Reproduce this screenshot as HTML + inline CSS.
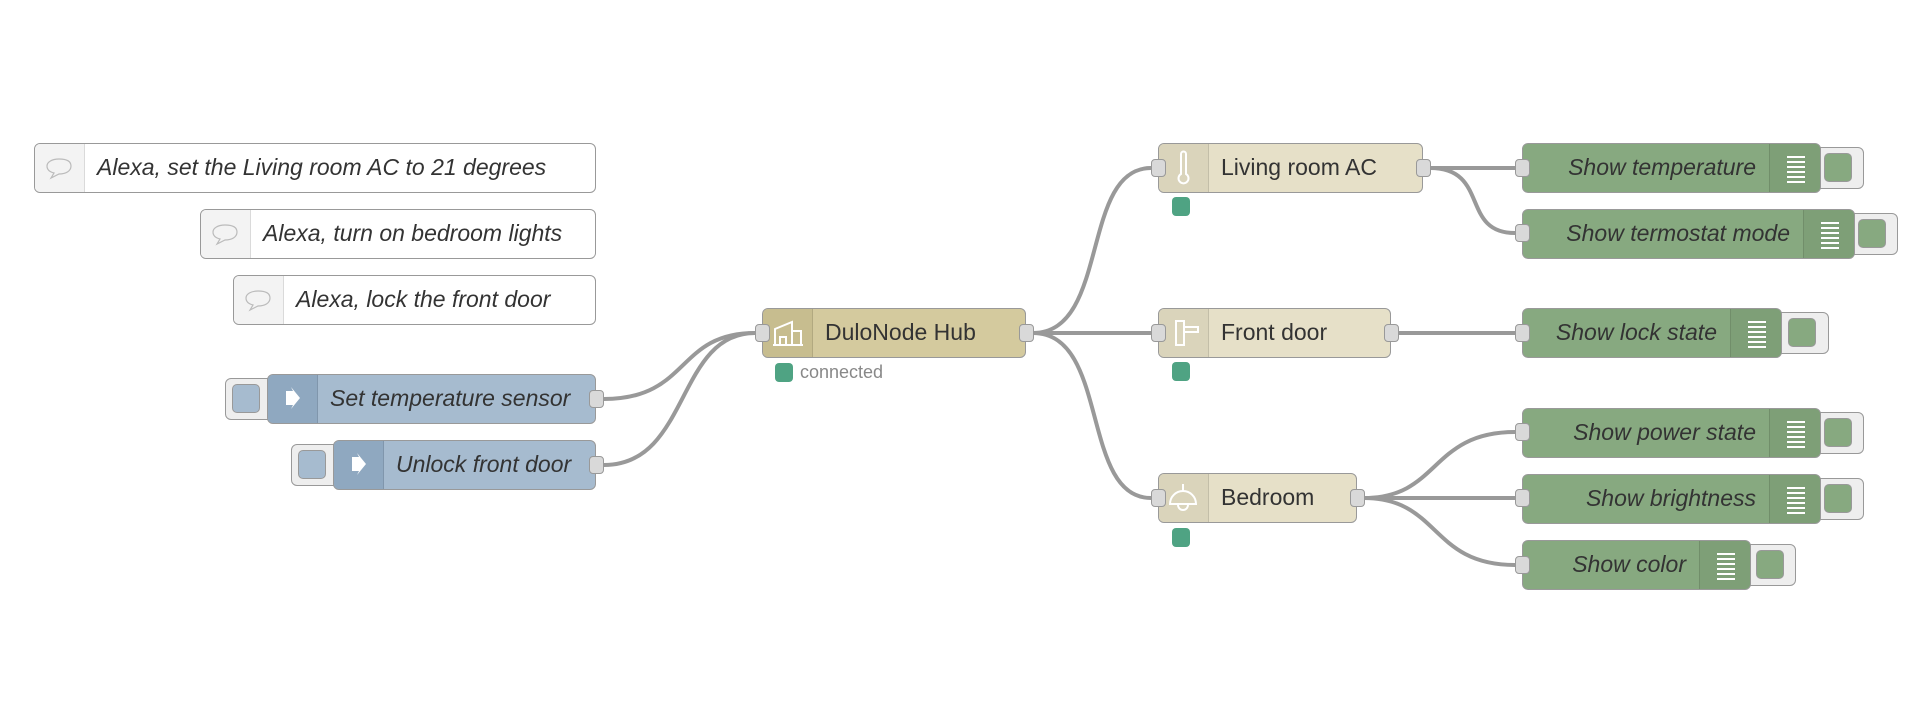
<!DOCTYPE html>
<html><head><meta charset="utf-8"><style>
body{margin:0;width:1920px;height:720px;background:#fff;position:relative;overflow:hidden;font-family:"Liberation Sans",Arial,sans-serif}
.n{position:absolute;box-sizing:border-box;border:1.5px solid #999;border-radius:6px;height:50px;font-size:23px;color:#333}
.ic{position:absolute;left:0;top:0;bottom:0;width:49px;border-right:1px solid rgba(0,0,0,0.1);border-radius:5px 0 0 5px}
.ir{position:absolute;right:0;top:0;bottom:0;width:50px;border-left:1px solid rgba(0,0,0,0.1);border-radius:0 5px 5px 0;background:#7e9f77}
.t{position:absolute;top:0;line-height:47px;white-space:nowrap}
.it{font-style:italic}
.p{position:absolute;width:15px;height:18px;background:#d9d9d9;border:1.5px solid #999;border-radius:4px;box-sizing:border-box}
.btn{position:absolute;box-sizing:border-box;height:42px;border:1.5px solid #999;background:#eee;border-radius:6px}
.btn i{position:absolute;top:5px;width:28px;height:29px;border:1.5px solid #999;border-radius:5px;box-sizing:border-box}
.dot{position:absolute;width:18px;height:19px;background:#4fa383;border-radius:4px}
.lines{position:absolute;left:17px;top:12px;width:18px}
.lines b{display:block;height:2px;background:#fff;margin-bottom:3px}
</style></head><body>
<svg width="1920" height="720" style="position:absolute;left:0;top:0">
<g fill="none" stroke="#999" stroke-width="4">
<path d="M604 399 C690 399 676 333 755 333"/>
<path d="M604 465 C690 465 676 333 755 333"/>
<path d="M1033 333 C1110 333 1080 168 1151 168"/>
<path d="M1033 333 L1151 333"/>
<path d="M1033 333 C1110 333 1080 498 1151 498"/>
<path d="M1430 168 L1515 168"/>
<path d="M1430 168 C1490 168 1460 233 1515 233"/>
<path d="M1398 333 L1515 333"/>
<path d="M1364 498 C1440 498 1430 432 1515 432"/>
<path d="M1364 498 L1515 498"/>
<path d="M1364 498 C1440 498 1430 565 1515 565"/>
</g></svg>

<!-- comments -->
<div class="n" style="left:34px;top:143px;width:562px;background:#fff"><div class="ic" style="background:#f3f3f3"><svg width="49" height="47"><path d="M24 15c-7 0-12 3-12 7s3 6 7 7l-3 5 8-4c7 0 12-3 12-8s-5-7-12-7z" fill="none" stroke="#bbb" stroke-width="1.2"/></svg></div><div class="t it" style="left:62px">Alexa, set the Living room AC to 21 degrees</div></div>
<div class="n" style="left:200px;top:209px;width:396px;background:#fff"><div class="ic" style="background:#f3f3f3"><svg width="49" height="47"><path d="M24 15c-7 0-12 3-12 7s3 6 7 7l-3 5 8-4c7 0 12-3 12-8s-5-7-12-7z" fill="none" stroke="#bbb" stroke-width="1.2"/></svg></div><div class="t it" style="left:62px">Alexa, turn on bedroom lights</div></div>
<div class="n" style="left:233px;top:275px;width:363px;background:#fff"><div class="ic" style="background:#f3f3f3"><svg width="49" height="47"><path d="M24 15c-7 0-12 3-12 7s3 6 7 7l-3 5 8-4c7 0 12-3 12-8s-5-7-12-7z" fill="none" stroke="#bbb" stroke-width="1.2"/></svg></div><div class="t it" style="left:62px">Alexa, lock the front door</div></div>

<!-- inject -->
<div class="btn" style="left:225px;top:378px;width:50px"><i style="left:6px;background:#a6bbcf"></i></div>
<div class="n" style="left:267px;top:374px;width:329px;background:#a6bbcf"><div class="ic" style="background:#8fa8c0"><svg width="49" height="47"><path d="M18 16h7l-2-4 9 11-9 11 2-4h-7z" fill="#fff"/></svg></div><div class="t it" style="left:62px">Set temperature sensor</div></div>
<div class="p" style="left:589px;top:390px"></div>
<div class="btn" style="left:291px;top:444px;width:50px"><i style="left:6px;background:#a6bbcf"></i></div>
<div class="n" style="left:333px;top:440px;width:263px;background:#a6bbcf"><div class="ic" style="background:#8fa8c0"><svg width="49" height="47"><path d="M18 16h7l-2-4 9 11-9 11 2-4h-7z" fill="#fff"/></svg></div><div class="t it" style="left:62px">Unlock front door</div></div>
<div class="p" style="left:589px;top:456px"></div>

<!-- hub -->
<div class="n" style="left:762px;top:308px;width:264px;background:#d4ca9e"><div class="ic" style="background:#c7bd8f"><svg width="49" height="47"><path d="M10 36h30M12 36V20l17-7v23M29 22h9v14M17 36v-8h6v8" fill="none" stroke="#fff" stroke-width="2"/></svg></div><div class="t" style="left:62px">DuloNode Hub</div></div>
<div class="p" style="left:755px;top:324px"></div><div class="p" style="left:1019px;top:324px"></div>
<div class="dot" style="left:775px;top:363px"></div><div style="position:absolute;left:800px;top:362px;font-size:18px;color:#888">connected</div>

<!-- devices -->
<div class="n" style="left:1158px;top:143px;width:265px;background:#e6e0c8"><div class="ic" style="background:#dad4bb"><svg width="49" height="47"><path d="M22 10v20a5 5 0 1 0 5 0V10a2.5 2.5 0 0 0-5 0z" fill="none" stroke="#fff" stroke-width="2"/></svg></div><div class="t" style="left:62px">Living room AC</div></div>
<div class="p" style="left:1151px;top:159px"></div><div class="p" style="left:1416px;top:159px"></div><div class="dot" style="left:1172px;top:197px"></div>
<div class="n" style="left:1158px;top:308px;width:233px;background:#e6e0c8"><div class="ic" style="background:#dad4bb"><svg width="49" height="47"><path d="M17 12h8v24h-8zM25 18h14v5H25" fill="none" stroke="#fff" stroke-width="2"/></svg></div><div class="t" style="left:62px">Front door</div></div>
<div class="p" style="left:1151px;top:324px"></div><div class="p" style="left:1384px;top:324px"></div><div class="dot" style="left:1172px;top:362px"></div>
<div class="n" style="left:1158px;top:473px;width:199px;background:#e6e0c8"><div class="ic" style="background:#dad4bb"><svg width="49" height="47"><path d="M24 10v8M11 30a13 13 0 0 1 26 0zM19 31a5 5 0 0 0 10 0" fill="none" stroke="#fff" stroke-width="2"/></svg></div><div class="t" style="left:62px">Bedroom</div></div>
<div class="p" style="left:1151px;top:489px"></div><div class="p" style="left:1350px;top:489px"></div><div class="dot" style="left:1172px;top:528px"></div>

<!-- debug -->
<div class="btn" style="left:1810px;top:147px;width:54px"><i style="left:13px;background:#87a980"></i></div>
<div class="n" style="left:1522px;top:143px;width:299px;background:#87a980"><div class="t it" style="right:64px">Show temperature</div><div class="ir"><div class="lines"><b></b><b></b><b></b><b></b><b></b><b></b></div></div></div>
<div class="p" style="left:1515px;top:159px"></div>
<div class="btn" style="left:1844px;top:213px;width:54px"><i style="left:13px;background:#87a980"></i></div>
<div class="n" style="left:1522px;top:209px;width:333px;background:#87a980"><div class="t it" style="right:64px">Show termostat mode</div><div class="ir"><div class="lines"><b></b><b></b><b></b><b></b><b></b><b></b></div></div></div>
<div class="p" style="left:1515px;top:224px"></div>
<div class="btn" style="left:1772px;top:312px;width:57px"><i style="left:15px;background:#87a980"></i></div>
<div class="n" style="left:1522px;top:308px;width:260px;background:#87a980"><div class="t it" style="right:64px">Show lock state</div><div class="ir"><div class="lines"><b></b><b></b><b></b><b></b><b></b><b></b></div></div></div>
<div class="p" style="left:1515px;top:324px"></div>
<div class="btn" style="left:1810px;top:412px;width:54px"><i style="left:13px;background:#87a980"></i></div>
<div class="n" style="left:1522px;top:408px;width:299px;background:#87a980"><div class="t it" style="right:64px">Show power state</div><div class="ir"><div class="lines"><b></b><b></b><b></b><b></b><b></b><b></b></div></div></div>
<div class="p" style="left:1515px;top:423px"></div>
<div class="btn" style="left:1810px;top:478px;width:54px"><i style="left:13px;background:#87a980"></i></div>
<div class="n" style="left:1522px;top:474px;width:299px;background:#87a980"><div class="t it" style="right:64px">Show brightness</div><div class="ir"><div class="lines"><b></b><b></b><b></b><b></b><b></b><b></b></div></div></div>
<div class="p" style="left:1515px;top:489px"></div>
<div class="btn" style="left:1741px;top:544px;width:55px"><i style="left:14px;background:#87a980"></i></div>
<div class="n" style="left:1522px;top:540px;width:229px;background:#87a980"><div class="t it" style="right:64px">Show color</div><div class="ir"><div class="lines"><b></b><b></b><b></b><b></b><b></b><b></b></div></div></div>
<div class="p" style="left:1515px;top:556px"></div>
</body></html>
